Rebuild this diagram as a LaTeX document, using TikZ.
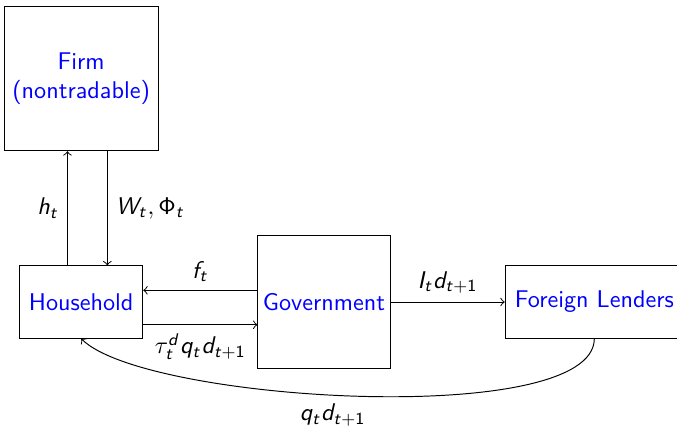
\documentclass[tikz,border=0pt]{standalone}
\usepackage{tikz}
\usetikzlibrary{positioning}
\renewcommand{\familydefault}{\sfdefault}
\SetSymbolFont{operators}{normal}{OT1}{cmss}{m}{n}
\DeclareMathAlphabet{\mathsfit}{OT1}{cmss}{m}{sl}
\newcommand{\sv}[1]{\mathsfit{#1}}

\begin{document}
\begin{tikzpicture}[
    node distance=1.66cm,
    agent/.style={draw, text=blue, align=center},
    flow/.style={->}
]
    \useasboundingbox (-1.18,-1.80) rectangle (8.66,4.39);

    \node[agent, minimum width=1.79cm, minimum height=1.05cm] (household) {Household};
    \node[agent, above=of household, minimum width=2.08cm, minimum height=2.09cm] (firm) {Firm\\(nontradable)};
    \node[agent, right=of household, minimum size=1.92cm, inner xsep=1pt] (government) {Government};
    \node[agent, right=of government, minimum width=2.59cm, minimum height=1.05cm] (lenders) {Foreign Lenders};

    % household <-> firm
    \draw[flow] ([xshift=-0.2cm]household.north) -- node[left] {$\sv{h}_{\sv{t}}$} ([xshift=-0.2cm]firm.south);
    \draw[flow] ([xshift=0.38cm]firm.south) -- node[right] {$\sv{W}_{\sv{t}}, \Phi_{\sv{t}}$} ([xshift=0.38cm]household.north);

    % household <-> government
    \draw[flow] ([yshift=0.17cm]government.west) -- node[above] {$\sv{f}_{\sv{t}}$} ([yshift=0.17cm]household.east);
    \draw[flow] ([yshift=-0.33cm]household.east) -- node[below] {$\tau_{\sv{t}}^{\sv{d}} \sv{q}_{\sv{t}} \sv{d}_{\sv{t}+1}$} ([yshift=-0.33cm]government.west);

    % government, lenders
    \draw[flow] (government) -- node[above] {$\sv{I}_{\sv{t}} \sv{d}_{\sv{t}+1}$} (lenders);
    \draw[flow] (lenders.south) to[out=-90, in=-45, looseness=0.45] node[below, pos=0.54] {$\sv{q}_{\sv{t}} \sv{d}_{\sv{t}+1}$} (household.south);
\end{tikzpicture}
\end{document}
